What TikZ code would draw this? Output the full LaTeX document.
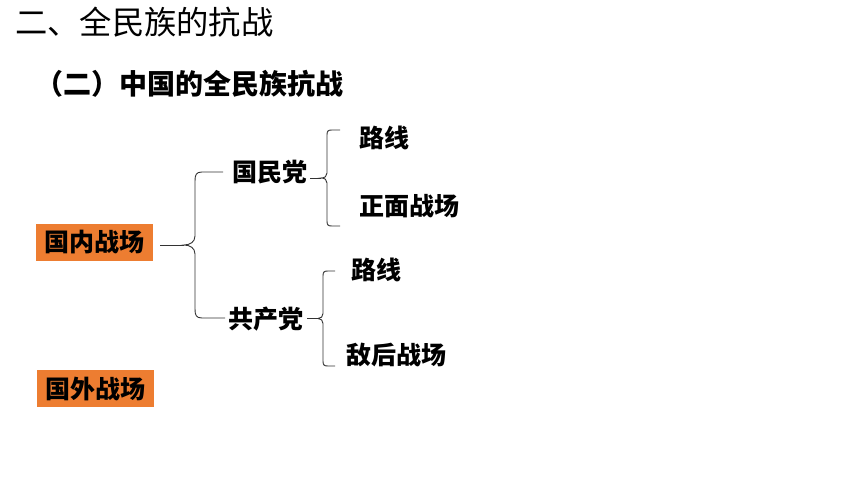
\documentclass[tikz,border=0pt]{standalone}
\usepackage{fontspec}
\newfontfamily\cjk{Noto Sans CJK SC}
\definecolor{boxorange}{HTML}{ED7D31}
\definecolor{linegray}{HTML}{333333}
\begin{document}
\begin{tikzpicture}[x=1pt,y=-1pt,
  title/.style={anchor=west,inner sep=0pt,font=\cjk\fontsize{32.3}{32}\selectfont},
  subtitle/.style={anchor=west,inner sep=0pt,font=\cjk\bfseries\fontsize{28}{28}\selectfont},
  lbl/.style={anchor=west,inner sep=0pt,font=\cjk\bfseries\fontsize{25}{25}\selectfont},
  obox/.style={fill=boxorange,inner sep=0pt,minimum width=117pt,minimum height=37pt,font=\cjk\bfseries\fontsize{25}{25}\selectfont},
  bracel/.style={draw=linegray,line width=0.9pt}]
\useasboundingbox[fill=white] (0,0) rectangle (860,484);
\node[title] (t) at (15,22) {二、全民族的抗战};
\node[subtitle] (st) at (35,84) {（二）中国的全民族抗战};
\node[obox] (gn) at (94.5,242.5) {国内战场};
\node[obox] (gw) at (95.5,388.5) {国外战场};
\node[lbl] (gmd) at (232,172) {国民党};
\node[lbl] (gcd) at (228,319) {共产党};
\node[lbl] (lx1) at (359,138) {路线};
\node[lbl] (zm) at (359,206) {正面战场};
\node[lbl] (lx2) at (351,270) {路线};
\node[lbl] (dh) at (346,355) {敌后战场};
% brace 1
\coordinate (c1) at (184,245);
\coordinate (f1) at (160,245);
\draw[bracel] (f1) -- (c1);
\draw[bracel] (223,172) -- (202,172) .. controls (196,172) and (195,175) .. (195,181) -- (195,236) .. controls (195,242) and (190,245) .. (c1) .. controls (190,245) and (195,248) .. (195,254) -- (195,309) .. controls (195,315) and (196,318) .. (202,318) -- (225,318);
% brace 2
\coordinate (c2) at (321,178);
\coordinate (f2) at (310,178);
\draw[bracel] (f2) -- (c2);
\draw[bracel] (340,130) -- (332,130) .. controls (328,130) and (327,131) .. (327,135) -- (327,173) .. controls (327,176) and (325,178) .. (c2) .. controls (325,178) and (327,180) .. (327,183) -- (327,221) .. controls (327,225) and (328,226) .. (332,226) -- (340,226);
% brace 3
\coordinate (c3) at (318,318.5);
\coordinate (f3) at (307,318.5);
\draw[bracel] (f3) -- (c3);
\draw[bracel] (335,271) -- (328,271) .. controls (324,271) and (323,272) .. (323,276) -- (323,313.5) .. controls (323,316.5) and (321,318.5) .. (c3) .. controls (321,318.5) and (323,320.5) .. (323,323.5) -- (323,361) .. controls (323,365) and (324,366) .. (328,366) -- (335,366);
\end{tikzpicture}
\end{document}
